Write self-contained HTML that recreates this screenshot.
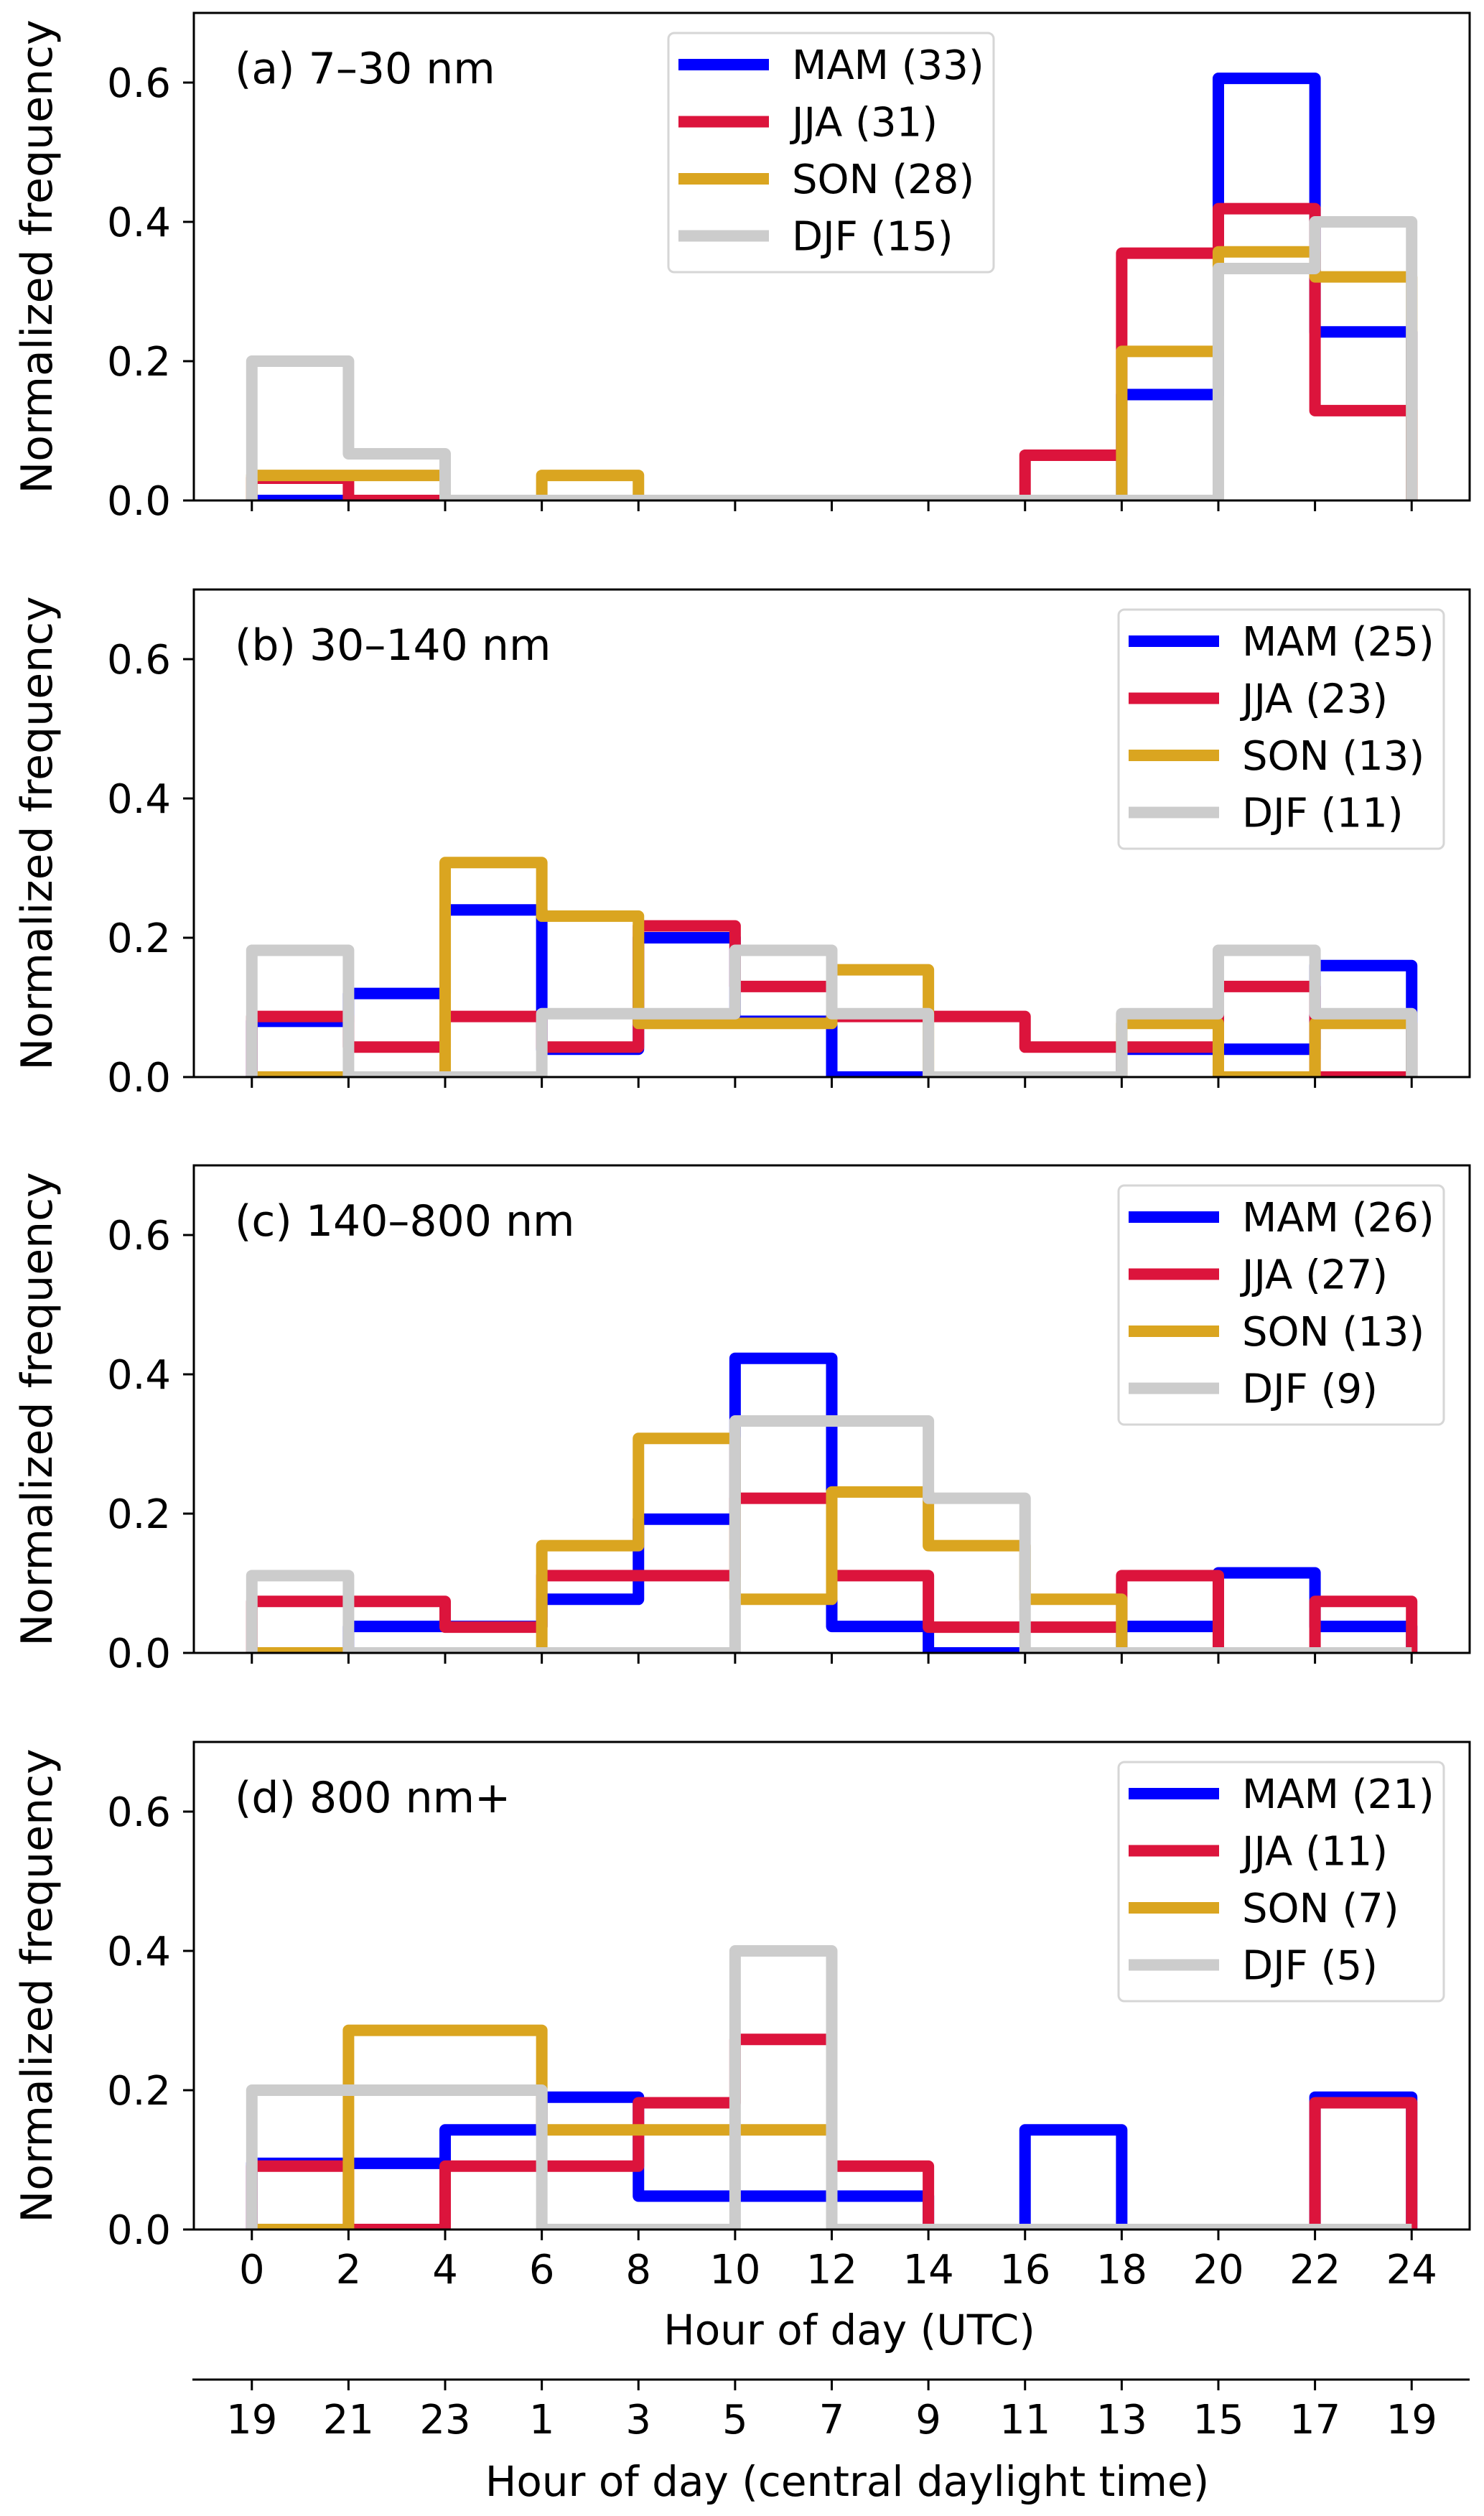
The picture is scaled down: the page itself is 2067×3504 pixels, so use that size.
<!DOCTYPE html>
<html><head><meta charset="utf-8"><style>
html,body{margin:0;padding:0;background:#fff;}
svg{display:block;font-family:"DejaVu Sans","Liberation Sans",sans-serif;}
</style></head><body>
<svg id="chart" width="2067" height="3504" viewBox="0 0 2067 3504" xmlns="http://www.w3.org/2000/svg"></svg>
<script>
const binEdges = [0,2,4,6,8,10,12,14,16,18,20,22,24];
const seasons = ["MAM","JJA","SON","DJF"];
const panelTitles = ["(a) 7\u201330 nm","(b) 30\u2013140 nm","(c) 140\u2013800 nm","(d) 800 nm+"];
const countsA = [33,31,28,15];
const countsB = [25,23,13,11];
const countsC = [26,27,13,9];
const countsD = [21,11,7,5];
const mamA = [0,0,0,0,0,0,0,0,0,0.152,0.606,0.242];
const jjaA = [0.032,0,0,0,0,0,0,0,0.065,0.355,0.419,0.129];
const sonA = [0.036,0.036,0,0.036,0,0,0,0,0,0.214,0.357,0.321];
const djfA = [0.2,0.067,0,0,0,0,0,0,0,0,0.333,0.4];
const mamB = [0.08,0.12,0.24,0.04,0.2,0.08,0,0,0,0.04,0.04,0.16];
const jjaB = [0.087,0.043,0.087,0.043,0.217,0.13,0.087,0.087,0.043,0.043,0.13,0];
const sonB = [0,0,0.308,0.231,0.077,0.077,0.154,0,0,0.077,0,0.077];
const djfB = [0.182,0,0,0.091,0.091,0.182,0.091,0,0,0.091,0.182,0.091];
const mamC = [0,0.038,0.038,0.077,0.192,0.423,0.038,0,0,0.038,0.115,0.038];
const jjaC = [0.074,0.074,0.037,0.111,0.111,0.222,0.111,0.037,0.037,0.111,0,0.074];
const sonC = [0,0,0,0.154,0.308,0.077,0.231,0.154,0.077,0,0,0];
const djfC = [0.111,0,0,0,0,0.333,0.333,0.222,0,0,0,0];
const mamD = [0.095,0.095,0.143,0.19,0.048,0.048,0.048,0,0.143,0,0,0.19];
const jjaD = [0.091,0,0.091,0.091,0.182,0.273,0.091,0,0,0,0,0.182];
const sonD = [0,0.286,0.286,0.143,0.143,0.143,0,0,0,0,0,0];
const djfD = [0.2,0.2,0.2,0,0,0.4,0,0,0,0,0,0];
const yTicks = [0.0,0.2,0.4,0.6];
const yTickLabels = ["0.0","0.2","0.4","0.6"];
const utcTicks = [0,2,4,6,8,10,12,14,16,18,20,22,24];
const cdtTickLabels = ["19","21","23","1","3","5","7","9","11","13","15","17","19"];

const panels = [
 {series:[mamA,jjaA,sonA,djfA], counts:countsA, title:panelTitles[0], legend:"center"},
 {series:[mamB,jjaB,sonB,djfB], counts:countsB, title:panelTitles[1], legend:"right"},
 {series:[mamC,jjaC,sonC,djfC], counts:countsC, title:panelTitles[2], legend:"right"},
 {series:[mamD,jjaD,sonD,djfD], counts:countsD, title:panelTitles[3], legend:"right"}
];
const colors = ["#0000ff","#dc143c","#daa520","#cccccc"];
const NS = "http://www.w3.org/2000/svg";
const svg = document.getElementById("chart");
const L = 270, R = 2047, H = 679;
const tops = [18, 821, 1623, 2426];
const xMin = -1.2, xMax = 25.2, yMax = 0.7;
const FS = 56;
function xs(v){ return L + (v - xMin) / (xMax - xMin) * (R - L); }
function mk(tag, attrs, parent){
  const e = document.createElementNS(NS, tag);
  for (const k in attrs) e.setAttribute(k, attrs[k]);
  (parent || svg).appendChild(e);
  return e;
}
panels.forEach((p, pi) => {
  const top = tops[pi], bot = top + H;
  const ys = v => bot - v / yMax * H;
  const g = mk("g", {});
  
  
  const clip = mk("clipPath", {id:"clip"+pi}, g);
  mk("rect", {x:L, y:top, width:R-L, height:H}, clip);
  const sg = mk("g", {"clip-path":"url(#clip"+pi+")"}, g);
  p.series.forEach((vals, si) => {
    let d = "M" + xs(binEdges[0]) + "," + ys(0);
    vals.forEach((v, i) => {
      d += " L" + xs(binEdges[i]) + "," + ys(v) + " L" + xs(binEdges[i+1]) + "," + ys(v);
    });
    d += " L" + xs(binEdges[binEdges.length-1]) + "," + ys(0);
    const path = mk("path", {d:d, fill:"none", stroke:colors[si], "stroke-width":16, "stroke-linejoin":"round"}, sg);
    
    
  });
  const frame = mk("rect", {x:L, y:top, width:R-L, height:H, fill:"none", stroke:"#000", "stroke-width":3}, g);
  
  
  yTicks.forEach((t, i) => {
    mk("line", {x1:L-15, x2:L, y1:ys(t), y2:ys(t), stroke:"#000", "stroke-width":3}, g);
    const tx = mk("text", {x:238, y:ys(t)+20, "font-size":FS, "text-anchor":"end"}, g);
    tx.textContent = yTickLabels[i];
    
    
  });
  utcTicks.forEach(t => {
    mk("line", {x1:xs(t), x2:xs(t), y1:bot, y2:bot+15, stroke:"#000", "stroke-width":3}, g);
  });
  const yl = mk("text", {x:0, y:0, "font-size":60, "text-anchor":"middle", transform:"translate(72," + (top + H/2) + ") rotate(-90)"}, g);
  yl.textContent = "Normalized frequency";
  
  
  const tt = mk("text", {x:327, y:top+98, "font-size":60}, g);
  tt.textContent = p.title;
  
  
  const lx = p.legend === "center" ? 931 : 1558;
  const ly = top + 28;
  const lg = mk("g", {}, g);
  
  
  mk("rect", {x:lx, y:ly, width:453, height:333, rx:8, fill:"#fff", stroke:"#d6d6d6", "stroke-width":3}, lg);
  seasons.forEach((s, si) => {
    const cy = ly + 44 + si * 79.5;
    mk("line", {x1:lx+14, x2:lx+140, y1:cy, y2:cy, stroke:colors[si], "stroke-width":16}, lg);
    const lt = mk("text", {x:lx+172, y:cy+20, "font-size":FS}, lg);
    lt.textContent = s + " (" + p.counts[si] + ")";
    
    
  });
  if (pi === 3) {
    utcTicks.forEach(t => {
      const tl = mk("text", {x:xs(t), y:3180, "font-size":FS, "text-anchor":"middle"}, g);
      tl.textContent = String(t);
      
      
    });
  }
});
const xl = mk("text", {x:1183, y:3265, "font-size":58, "text-anchor":"middle"});
xl.textContent = "Hour of day (UTC)";


const ax2 = mk("line", {x1:268, x2:R, y1:3314, y2:3314, stroke:"#000", "stroke-width":3});


utcTicks.forEach((t, i) => {
  mk("line", {x1:xs(t), x2:xs(t), y1:3314, y2:3329, stroke:"#000", "stroke-width":3});
  const tl = mk("text", {x:xs(t), y:3389, "font-size":FS, "text-anchor":"middle"});
  tl.textContent = cdtTickLabels[i];
  
  
});
const xl2 = mk("text", {x:1180, y:3476, "font-size":58, "text-anchor":"middle"});
xl2.textContent = "Hour of day (central daylight time)";


</script>
</body></html>
